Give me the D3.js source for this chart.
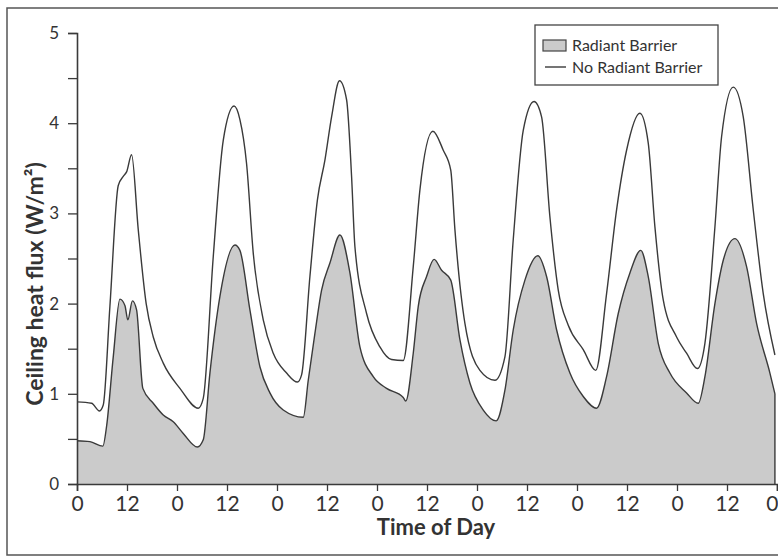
<!DOCTYPE html>
<html>
<head>
<meta charset="utf-8">
<script src="https://cdn.jsdelivr.net/npm/d3@7"></script>
<style>
  body { margin: 0; background: #fff; }
  svg { display: block; font-family: Lato, "Open Sans", sans-serif; }
</style>
</head>
<body>
<div id="chart"></div>
<script>
// hours since start of the week
const noBarrierHours = [0, 3.5, 5.4, 6.3, 7.9, 9.9, 11.1, 11.9, 13.1, 14.7, 16.6, 18.3, 20.7, 24.7, 29.1, 30.3,
  32.7, 35.1, 37.7, 39.1, 40.7, 42.3, 44.7, 47.1, 50.3, 52.9, 53.9, 55.9, 57.7, 59.5, 61.1, 63, 64.7, 65.9,
  66.7, 69.5, 72.7, 75.5, 78.3, 80.7, 82.3, 85.4, 87.9, 89.7, 90.7, 93.1, 96.7, 100.3, 102.7, 104.7, 107.1,
  109.7, 111.5, 113.5, 115.5, 117.9, 121.5, 124.5, 127.1, 129.5, 131.9, 135.1, 137.1, 138.7, 140.7, 143.9,
  146.3, 148.9, 150.7, 153.1, 154.7, 157.5, 159.9, 162.3, 164.7, 167.5];
const noBarrierFlux = [0.91, 0.895, 0.81, 0.875, 1.97, 3.31, 3.41, 3.46, 3.65, 2.82, 2.0, 1.63, 1.34, 1.06, 0.84, 0.95,
  2.52, 3.81, 4.19, 4.04, 3.55, 2.56, 1.82, 1.45, 1.23, 1.13, 1.21, 2.30, 3.15, 3.59, 4.07, 4.47, 4.26, 3.41,
  2.63, 1.89, 1.52, 1.38, 1.37, 2.41, 3.26, 3.91, 3.70, 3.48, 2.82, 1.78, 1.26, 1.15, 1.41, 2.71, 3.92,
  4.24, 4.07, 2.96, 2.15, 1.76, 1.49, 1.26, 2.11, 3.04, 3.70, 4.11, 3.78, 2.85, 2.04, 1.63,
  1.45, 1.28, 1.56, 2.85, 3.85, 4.40, 4.07, 3.04, 2.11, 1.43];

const barrierHours = [0, 3.1, 6.2, 7.1, 8.7, 10.3, 11.5, 12.2, 13.3, 14.3, 15.8, 18.3, 20.7, 23.1, 25.5, 28.9, 30.3,
  31.9, 34.3, 37.9, 39.1, 41.5, 43.9, 46.3, 49.5, 54.3, 55.5, 57.1, 58.7, 60.7, 63.1, 65.5, 67.9, 71.1, 74.3,
  78.3, 78.9, 80.7, 81.9, 83.9, 85.7, 87.5, 89.7, 91.9, 94.3, 97.5, 100.6, 102.7, 104.7, 107.5, 110.6, 112.7,
  115.1, 118.3, 121.5, 124.7, 127.1, 129.9, 132.7, 135.3, 137.1, 139.5, 142.3, 146.3, 149.1, 150.7, 153.1,
  155.1, 157.9, 160.7, 163.1, 166.3, 167.5];
const barrierFlux = [0.48, 0.47, 0.42, 0.64, 1.41, 2.05, 1.98, 1.82, 2.03, 1.93, 1.06, 0.895, 0.765, 0.69, 0.56, 0.41, 0.49,
  1.23, 2.08, 2.65, 2.59, 1.93, 1.30, 1.01, 0.82, 0.74, 1.15, 1.67, 2.15, 2.45, 2.76, 2.34, 1.52, 1.19, 1.06,
  0.96, 0.92, 1.45, 1.97, 2.30, 2.49, 2.37, 2.26, 1.60, 1.12, 0.82, 0.70, 1.04, 1.71, 2.26, 2.53, 2.30,
  1.71, 1.23, 0.97, 0.84, 1.19, 1.89, 2.34, 2.59, 2.30, 1.56, 1.23, 1.01, 0.895, 1.19, 2.00,
  2.48, 2.72, 2.41, 1.78, 1.23, 1.00];

const xTicks = d3.range(0, 169, 12);
const yTicks = d3.range(0, 5.01, 0.5);
const seriesNames = ["Radiant Barrier", "No Radiant Barrier"];

const width = 778, height = 557;
const ink = "#3a3a3a";

const svg = d3.select("#chart").append("svg")
  .attr("width", width)
  .attr("height", height);

// scanned page frame
svg.append("rect")
  .attr("x", 7).attr("y", 8)
  .attr("width", 800).attr("height", 547)
  .attr("fill", "none")
  .attr("stroke", "#555")
  .attr("stroke-width", 1.5);

const x = d3.scaleLinear().domain([0, 168]).range([77, 777]);
const y = d3.scaleLinear().domain([0, 5]).range([484, 33]);

const barrier = barrierHours.map((h, i) => ({ h: h, v: barrierFlux[i] }));
const noBarrier = noBarrierHours.map((h, i) => ({ h: h, v: noBarrierFlux[i] }));

const curve = d3.curveMonotoneX;

// shaded radiant barrier area
svg.append("path")
  .datum(barrier)
  .attr("fill", "#cbcbcb")
  .attr("d", d3.area().curve(curve)
    .x(d => x(d.h)).y0(y(0)).y1(d => y(d.v)));

const line = d3.line().curve(curve).x(d => x(d.h)).y(d => y(d.v));

svg.append("path")
  .datum(barrier)
  .attr("fill", "none")
  .attr("stroke", ink)
  .attr("stroke-width", 1.4)
  .attr("d", line);

// right edge of the shaded area
const last = barrier[barrier.length - 1];
svg.append("line")
  .attr("x1", x(last.h)).attr("x2", x(last.h))
  .attr("y1", y(last.v)).attr("y2", y(0))
  .attr("stroke", ink).attr("stroke-width", 1.4);

svg.append("path")
  .datum(noBarrier)
  .attr("fill", "none")
  .attr("stroke", ink)
  .attr("stroke-width", 1.4)
  .attr("d", line);

// axes
const xAxis = svg.append("g")
  .attr("transform", "translate(0," + y(0) + ")")
  .call(d3.axisBottom(x).tickValues(xTicks).tickSize(7).tickPadding(5)
    .tickFormat(h => String(h % 24)));
const yAxis = svg.append("g")
  .attr("transform", "translate(" + x(0) + ",0)")
  .call(d3.axisLeft(y).tickValues(yTicks).tickSize(9).tickPadding(9)
    .tickFormat(v => Number.isInteger(v) ? String(v) : ""));

[xAxis, yAxis].forEach(g => {
  g.select(".domain").attr("stroke", ink).attr("stroke-width", 1.6);
  g.selectAll(".tick line").attr("stroke", ink).attr("stroke-width", 1.3);
  g.selectAll("text").attr("fill", "#333").style("font-family", "Lato, sans-serif");
});
xAxis.selectAll("text").style("font-size", "21px");
yAxis.selectAll("text").style("font-size", "17px");
// last label sits at the page edge, keep it inside
xAxis.selectAll(".tick text").filter(d => d === 168)
  .attr("text-anchor", "end").attr("x", 1);

svg.append("text")
  .attr("x", 436).attr("y", 535)
  .attr("text-anchor", "middle")
  .attr("fill", "#333")
  .style("font-size", "22px").style("font-weight", "bold")
  .text("Time of Day");

svg.append("text")
  .attr("transform", "translate(43,284) rotate(-90)")
  .attr("text-anchor", "middle")
  .attr("fill", "#333")
  .style("font-size", "23px").style("font-weight", "bold")
  .text("Ceiling heat flux (W/m²)");

// legend
const legend = svg.append("g").attr("transform", "translate(535,25)");
legend.append("rect")
  .attr("width", 183).attr("height", 60)
  .attr("fill", "#fff").attr("stroke", "#444").attr("stroke-width", 1.3);
legend.append("rect")
  .attr("x", 8).attr("y", 15).attr("width", 23).attr("height", 11)
  .attr("fill", "#cbcbcb").attr("stroke", "#444").attr("stroke-width", 1.2);
legend.append("line")
  .attr("x1", 10).attr("x2", 31).attr("y1", 42).attr("y2", 42)
  .attr("stroke", ink).attr("stroke-width", 1.4);
legend.selectAll("text.lbl")
  .data(seriesNames)
  .enter().append("text")
  .attr("class", "lbl")
  .attr("x", 37)
  .attr("y", (d, i) => 26 + i * 22)
  .attr("fill", "#333")
  .style("font-size", "16px")
  .text(d => d);
</script>
</body>
</html>
